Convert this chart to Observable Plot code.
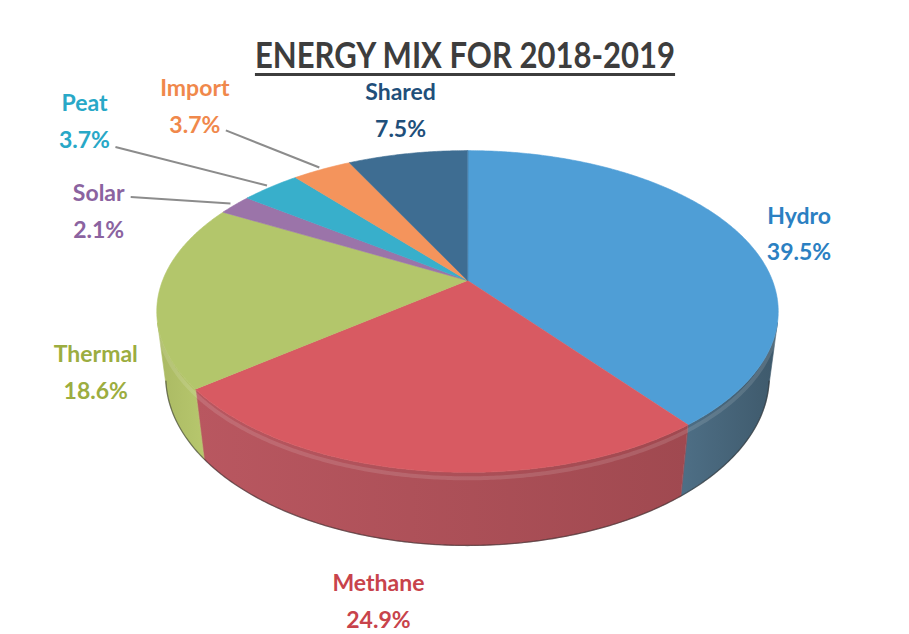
<!DOCTYPE html>
<html><head><meta charset="utf-8">
<script src="https://cdn.jsdelivr.net/npm/d3@7"></script>
<script src="https://cdn.jsdelivr.net/npm/@observablehq/plot@0.6"></script>
<style>
body{margin:0;background:#fff;width:909px;height:634px;overflow:hidden;font-family:Lato,"Open Sans",sans-serif}
#title{height:40px;position:relative;z-index:1}
#t{position:absolute;left:465px;top:36px;font-weight:700;font-size:36px;color:#3d3d3d;text-decoration:underline;text-decoration-thickness:3px;text-underline-offset:5px;white-space:nowrap;line-height:1;transform-origin:0 0}
</style></head><body>
<div id="title"><span id="t"></span></div>
<div id="chart"></div>
<script>
// ---- data ----
const titleText = "ENERGY MIX FOR 2018-2019";
const categories = ["Hydro","Methane","Thermal","Solar","Peat","Import","Shared"];
const shares = [39.5,24.9,18.6,2.1,3.7,3.7,7.5];
const pctLabels = ["39.5%","24.9%","18.6%","2.1%","3.7%","3.7%","7.5%"];

// ---- styles / layout ----
const topColors  = ["#4f9ed6","#d85a62","#b3c66b","#9b74a9","#38afcb","#f4945c","#3e6d92"];
const wallLeft   = ["#4e6f86","#b95760","#aab963","#8a6698","#2f9ab4","#d9824f","#36607f"];
const wallRight  = ["#3e596b","#a04950","#b7c76d","#8a6698","#2f9ab4","#d9824f","#36607f"];
const textColors = ["#2b80c2","#c8434b","#9cad40","#8b63a0","#28a8c7","#f0884b","#1f4f7a"];
const labelNudge = [[60,-3],[-43,127],[-63,75],[-136,3],[-186,-69],[-127,-67],[-7,-47]];
const leaderFrom = [null,null,null,[-104,-8],[-155,-40],[-96,-39],null];

// title
const t = document.getElementById("t");
t.textContent = titleText;
const tw = t.offsetWidth;
const k = 420 / tw;
t.style.transform = `scaleX(${k}) translateX(-50%)`;

// ---- perspective projection of the pie disc ----
const TOP = 40, W = 909, H = 594;
const cx = 467, cy0 = 280, F = 1363, D = 4.47, se = 0.508, ce = 0.861, hWall = 0.254;
function proj(th, r, h = 0) {
  const X = r * Math.sin(th), Z = r * Math.cos(th);
  const yc = Z * se - h * ce, zc = D + Z * ce + h * se;
  return [cx + F * X / zc, cy0 - F * yc / zc];
}
const total = d3.sum(shares);
let acc = 0;
const slices = categories.map((name, i) => {
  const a0 = acc / total * 2 * Math.PI; acc += shares[i];
  const a1 = acc / total * 2 * Math.PI;
  return {name, i, a0, a1, mid: (a0 + a1) / 2};
});
function arc(a, b, r, h) {
  const n = Math.max(2, Math.ceil(Math.abs(b - a) / (0.5 * Math.PI / 180)));
  return d3.range(n + 1).map(j => proj(a + (b - a) * j / n, r, h));
}
const v0 = Math.acos(-1 / (D * ce)), v1 = 2 * Math.PI - v0;

const marks = [];
// walls
slices.forEach(s => {
  const lo = Math.max(s.a0, v0), hi = Math.min(s.a1, v1);
  if (hi <= lo) return;
  const pts = arc(lo, hi, 1, 0).concat(arc(hi, lo, 1, hWall));
  marks.push(Plot.line(pts, {x: d => d[0], y: d => d[1], fill: `url(#wall${s.i})`, stroke: `url(#wall${s.i})`, strokeWidth: 0.6, curve: "linear-closed"}));
});
// wall top highlight & bottom rim
marks.push(Plot.line(arc(v0, v1, 1, 0.02), {x: d => d[0], y: d => d[1], stroke: "#ffffff", strokeOpacity: 0.12, strokeWidth: 4}));
marks.push(Plot.line(arc(v0 - 0.05, v1 + 0.05, 1, hWall), {x: d => d[0], y: d => d[1], stroke: "#2a2a2a", strokeOpacity: 0.55, strokeWidth: 1.3}));
// top surfaces
slices.forEach(s => {
  const pts = [proj(0, 0, 0)].concat(arc(s.a0, s.a1, 1, 0));
  marks.push(Plot.line(pts, {x: d => d[0], y: d => d[1], fill: topColors[s.i], stroke: topColors[s.i], strokeWidth: 0.6, curve: "linear-closed"}));
});
// leaders
slices.forEach(s => {
  const lf = leaderFrom[s.i];
  if (!lf) return;
  const e = proj(s.mid, 1, 0), end = proj(s.mid, 1.02, 0);
  marks.push(Plot.link([s], {x1: () => e[0] + lf[0], y1: () => e[1] + lf[1], x2: () => end[0], y2: () => end[1], stroke: "#8c8c8c", strokeWidth: 2}));
});
// labels
slices.forEach(s => {
  const e = proj(s.mid, 1, 0), [dx, dy] = labelNudge[s.i];
  marks.push(Plot.text([s], {x: () => e[0] + dx, y: () => e[1] + dy, text: d => `${d.name}\n${pctLabels[d.i]}`,
    fill: textColors[s.i], fontSize: 23, fontWeight: 700, lineHeight: 1.6, fontFamily: "Lato"}));
});

const svg = Plot.plot({
  width: W, height: H, margin: 0,
  x: {domain: [0, W], range: [0, W], axis: null},
  y: {domain: [TOP, TOP + H], range: [0, H], axis: null},
  style: {background: "transparent", fontFamily: "Lato"},
  marks
});
const defs = d3.select(svg).insert("defs", ":first-child");
slices.forEach(s => {
  const g = defs.append("linearGradient").attr("id", `wall${s.i}`).attr("x1", 0).attr("y1", 0).attr("x2", 1).attr("y2", 0);
  g.append("stop").attr("offset", "0%").attr("stop-color", wallLeft[s.i]);
  g.append("stop").attr("offset", "100%").attr("stop-color", wallRight[s.i]);
});
document.getElementById("chart").appendChild(svg);
</script>
</body></html>
